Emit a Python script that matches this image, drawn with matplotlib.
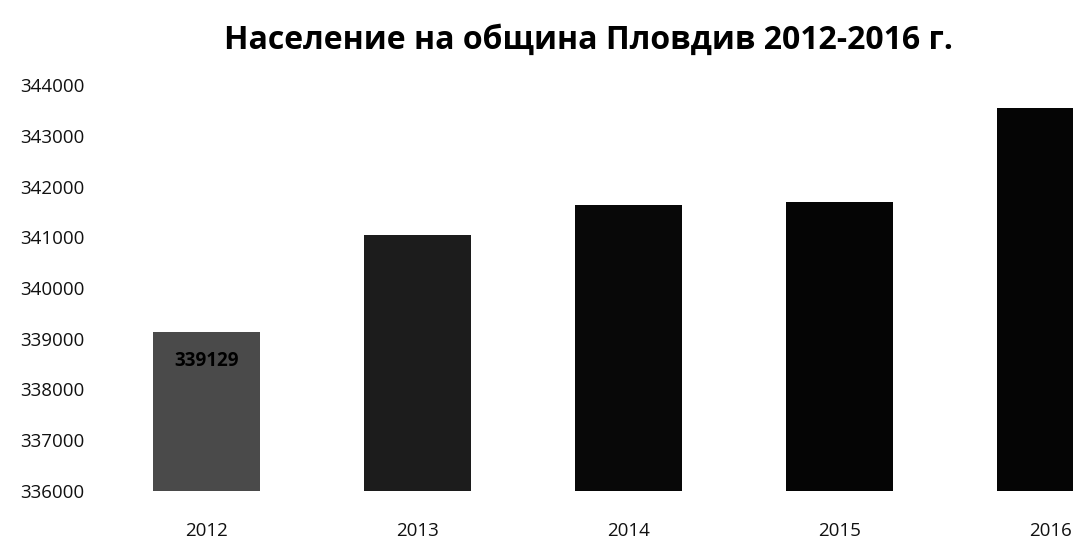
import matplotlib.pyplot as plt

# Population of Plovdiv municipality by year
years = ['2012', '2013', '2014', '2015', '2016']
population = [339129, 341040, 341630, 341690, 343550]
bar_colors = ['#4a4a4a', '#1c1c1c', '#080808', '#050505', '#050505']

plt.rcParams['font.family'] = ['Open Sans', 'DejaVu Sans']

fig = plt.figure(figsize=(10.73, 5.5), dpi=100)
# axes runs past the right edge, so the last bar is cut off
ax = fig.add_axes([101 / 1073, 59 / 550, 972 / 1073, 406 / 550])

x = list(range(len(years)))
bars = ax.bar(x, population, width=0.51, color=bar_colors)
ax.set_ylim(336000, 344000)
ax.set_xlim(-0.5, -0.5 + 972 / 211)
ax.set_yticks(range(336000, 344001, 1000))
ax.set_xticks(x)
ax.set_xticklabels(years)

# value label on the first bar (the dark bars swallow the rest)
b = bars[0]
ax.text(b.get_x() + b.get_width() / 2, population[0] - 560, str(population[0]),
        ha='center', va='center', fontsize=13.5, fontweight='bold', color='black')

for s in ax.spines.values():
    s.set_visible(False)
ax.tick_params(axis='both', length=0, labelsize=13.5, colors='#111111')
ax.tick_params(axis='y', pad=12)
ax.tick_params(axis='x', pad=22)

fig.text(588 / 1073, 1 - 40 / 550, 'Население на община Пловдив 2012-2016 г.',
         ha='center', va='center', fontsize=23, fontweight='bold')

fig.savefig('out.png', dpi=100)
